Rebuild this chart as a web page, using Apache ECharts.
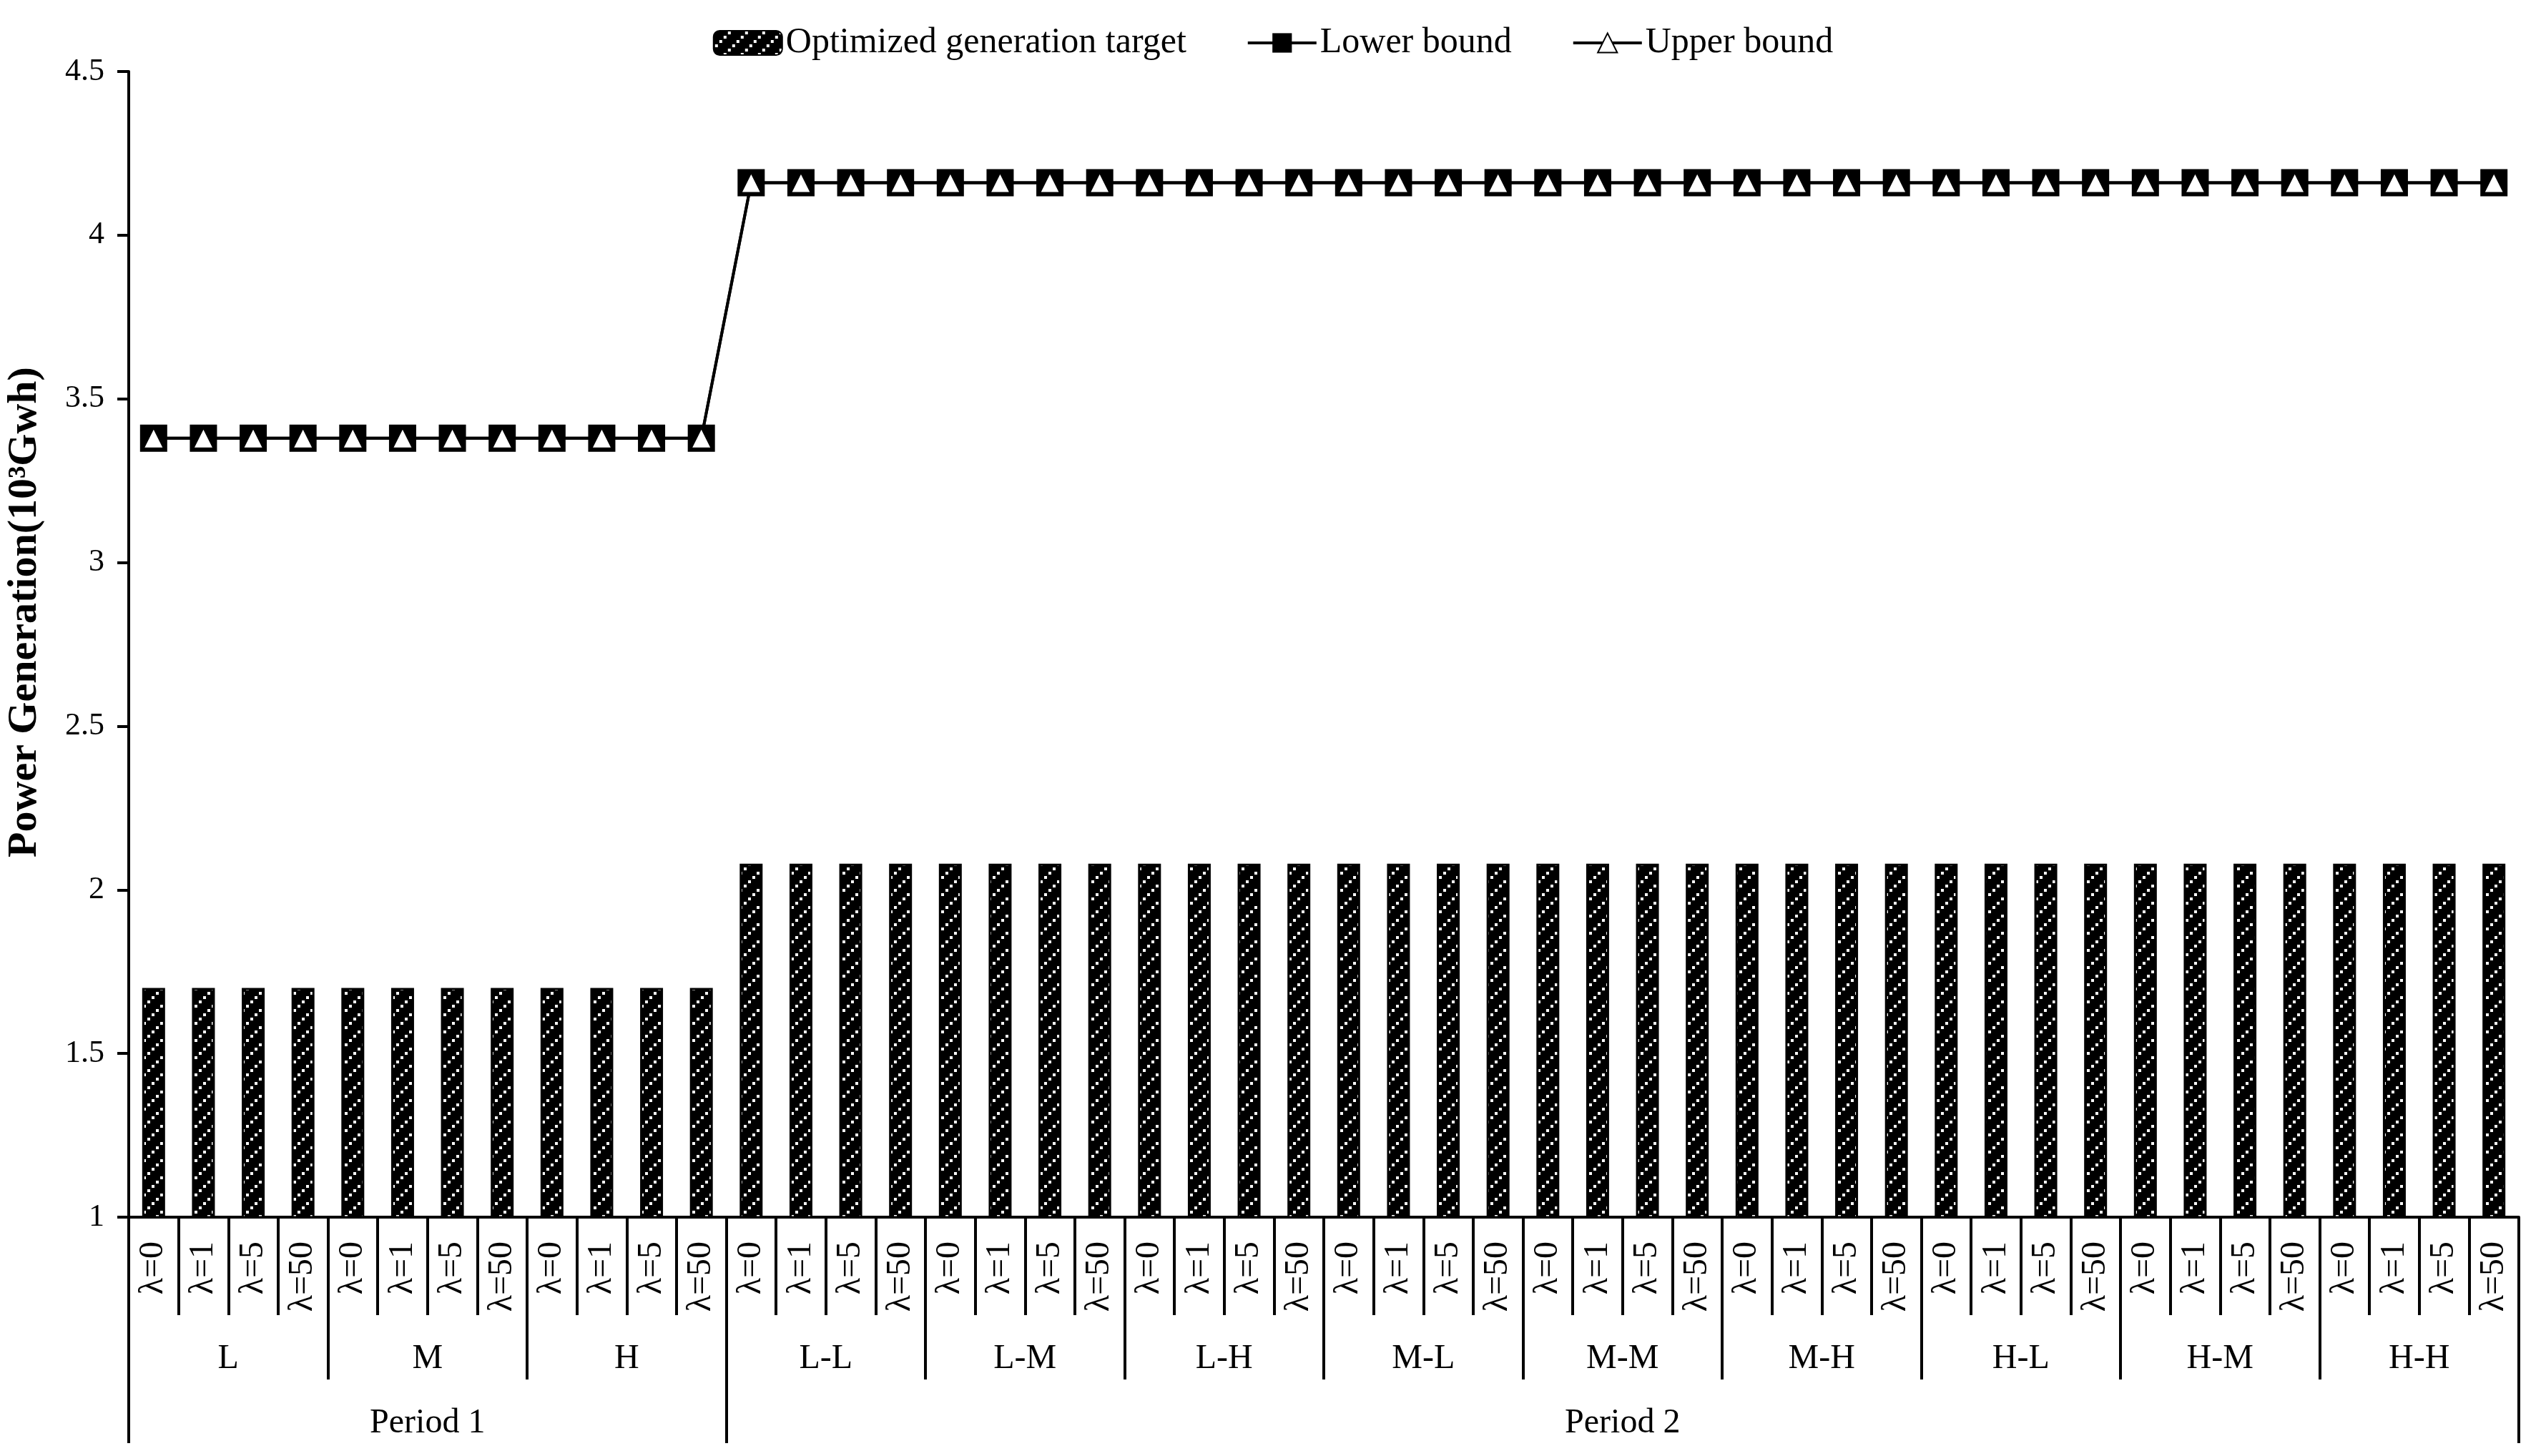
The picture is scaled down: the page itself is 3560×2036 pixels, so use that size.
<!DOCTYPE html>
<html>
<head>
<meta charset="utf-8">
<script src="https://cdn.jsdelivr.net/npm/echarts@6/dist/echarts.min.js"></script>
<style>
html, body { margin: 0; padding: 0; background: #fff; }
#main { width: 3560px; height: 2036px; }
</style>
</head>
<body>
<div id="main"></div>
<script>
// categories
var lambdas = ['λ=0', 'λ=1', 'λ=5', 'λ=50'];
var groups = ['L', 'M', 'H', 'L-L', 'L-M', 'L-H', 'M-L', 'M-M', 'M-H', 'H-L', 'H-M', 'H-H'];
var periods = ['Period 1', 'Period 2'];
var periodGroupCount = [3, 9];

// values per group (10^3 Gwh)
var targetByGroup = [1.70, 1.70, 1.70, 2.08, 2.08, 2.08, 2.08, 2.08, 2.08, 2.08, 2.08, 2.08];
var lowerByGroup  = [3.38, 3.38, 3.38, 4.16, 4.16, 4.16, 4.16, 4.16, 4.16, 4.16, 4.16, 4.16];
var upperByGroup  = [3.38, 3.38, 3.38, 4.16, 4.16, 4.16, 4.16, 4.16, 4.16, 4.16, 4.16, 4.16];

var yTicks = [1, 1.5, 2, 2.5, 3, 3.5, 4, 4.5];

var FONT = '"Liberation Serif", "Times New Roman", serif';

// expand to one entry per lambda
var categories = [], target = [], lower = [], upper = [];
groups.forEach(function (g, gi) {
  lambdas.forEach(function (l) {
    categories.push(l);
    target.push(targetByGroup[gi]);
    lower.push(lowerByGroup[gi]);
    upper.push(upperByGroup[gi]);
  });
});

// period axis: 4 equal slots (period 1 = 3 groups, period 2 = 9 groups)
var slotGroups = 3;
var periodSlots = [];
var periodBounds = [];
var slotPos = 0;
periods.forEach(function (p, pi) {
  var n = periodGroupCount[pi] / slotGroups;
  periodBounds.push(slotPos);
  for (var k = 0; k < n; k++) {
    periodSlots.push(k === Math.floor(n / 2) ? p : '');
  }
  slotPos += n;
});

// hatch pattern for bars
function makePattern() {
  var c = document.createElement('canvas');
  c.width = 24; c.height = 24;
  var ctx = c.getContext('2d');
  ctx.fillStyle = '#000';
  ctx.fillRect(0, 0, 24, 24);
  ctx.fillStyle = '#fff';
  for (var i = 0; i < 4; i++) {
    ctx.fillRect(2 + i * 6, 19 - i * 6, 4, 4);
  }
  return c;
}
var pattern = { image: makePattern(), repeat: 'repeat' };

var myChart = echarts.init(document.getElementById('main'));

var option = {
  backgroundColor: '#fff',
  animation: false,
  textStyle: { fontFamily: FONT, color: '#000' },
  legend: {
    top: 30,
    left: 'center',
    itemWidth: 96,
    itemHeight: 34,
    itemGap: 84,
    lineStyle: { width: 4 },
    textStyle: { fontFamily: FONT, fontSize: 50, color: '#000' },
    data: ['Optimized generation target', 'Lower bound', 'Upper bound']
  },
  grid: {
    left: 180, right: 38, top: 100, bottom: 334,
    containLabel: false,
    outerBoundsMode: 'none'
  },
  xAxis: [
    {
      type: 'category',
      position: 'bottom',
      data: categories,
      axisLine: { show: true, lineStyle: { color: '#000', width: 4 } },
      axisTick: { show: true, interval: 0, length: 137, lineStyle: { color: '#000', width: 4 } },
      axisLabel: { interval: 0, rotate: 90, margin: 34, fontFamily: FONT, fontSize: 48, color: '#000' },
      splitLine: { show: false }
    },
    {
      type: 'category',
      position: 'bottom',
      data: groups,
      axisLine: { show: false },
      axisTick: { show: true, interval: 0, length: 227, lineStyle: { color: '#000', width: 4 } },
      axisLabel: { interval: 0, margin: 174, fontFamily: FONT, fontSize: 48, color: '#000' },
      splitLine: { show: false }
    },
    {
      type: 'category',
      position: 'bottom',
      data: periodSlots,
      axisLine: { show: false },
      axisTick: {
        show: true,
        interval: function (idx) { return periodBounds.indexOf(idx) > -1; },
        length: 316,
        lineStyle: { color: '#000', width: 4 }
      },
      axisLabel: { interval: 0, margin: 264, fontFamily: FONT, fontSize: 48, color: '#000' },
      splitLine: { show: false }
    }
  ],
  yAxis: {
    type: 'value',
    min: yTicks[0],
    max: yTicks[yTicks.length - 1],
    interval: 0.5,
    name: 'Power Generation(10³Gwh)',
    nameLocation: 'middle',
    nameGap: 116,
    nameTextStyle: { fontFamily: FONT, fontSize: 58, fontWeight: 'bold', color: '#000', padding: [0, 0, 0, 90] },
    axisLine: { show: true, lineStyle: { color: '#000', width: 4 } },
    axisTick: { show: true, length: 16, lineStyle: { color: '#000', width: 4 } },
    axisLabel: { margin: 34, fontFamily: FONT, fontSize: 44, color: '#000' },
    splitLine: { show: false }
  },
  series: [
    {
      name: 'Optimized generation target',
      type: 'bar',
      xAxisIndex: 0,
      barWidth: 32,
      data: target,
      itemStyle: { color: pattern, borderColor: '#000', borderWidth: 3 }
    },
    {
      name: 'Lower bound',
      type: 'line',
      xAxisIndex: 0,
      data: lower,
      symbol: 'rect',
      symbolSize: 38,
      lineStyle: { color: '#000', width: 4 },
      itemStyle: { color: '#000' }
    },
    {
      name: 'Upper bound',
      type: 'line',
      xAxisIndex: 0,
      data: upper,
      symbol: 'triangle',
      symbolSize: 28,
      lineStyle: { color: '#000', width: 4 },
      itemStyle: { color: '#fff', borderColor: '#000', borderWidth: 2 }
    }
  ]
};

myChart.setOption(option);
</script>
</body>
</html>
